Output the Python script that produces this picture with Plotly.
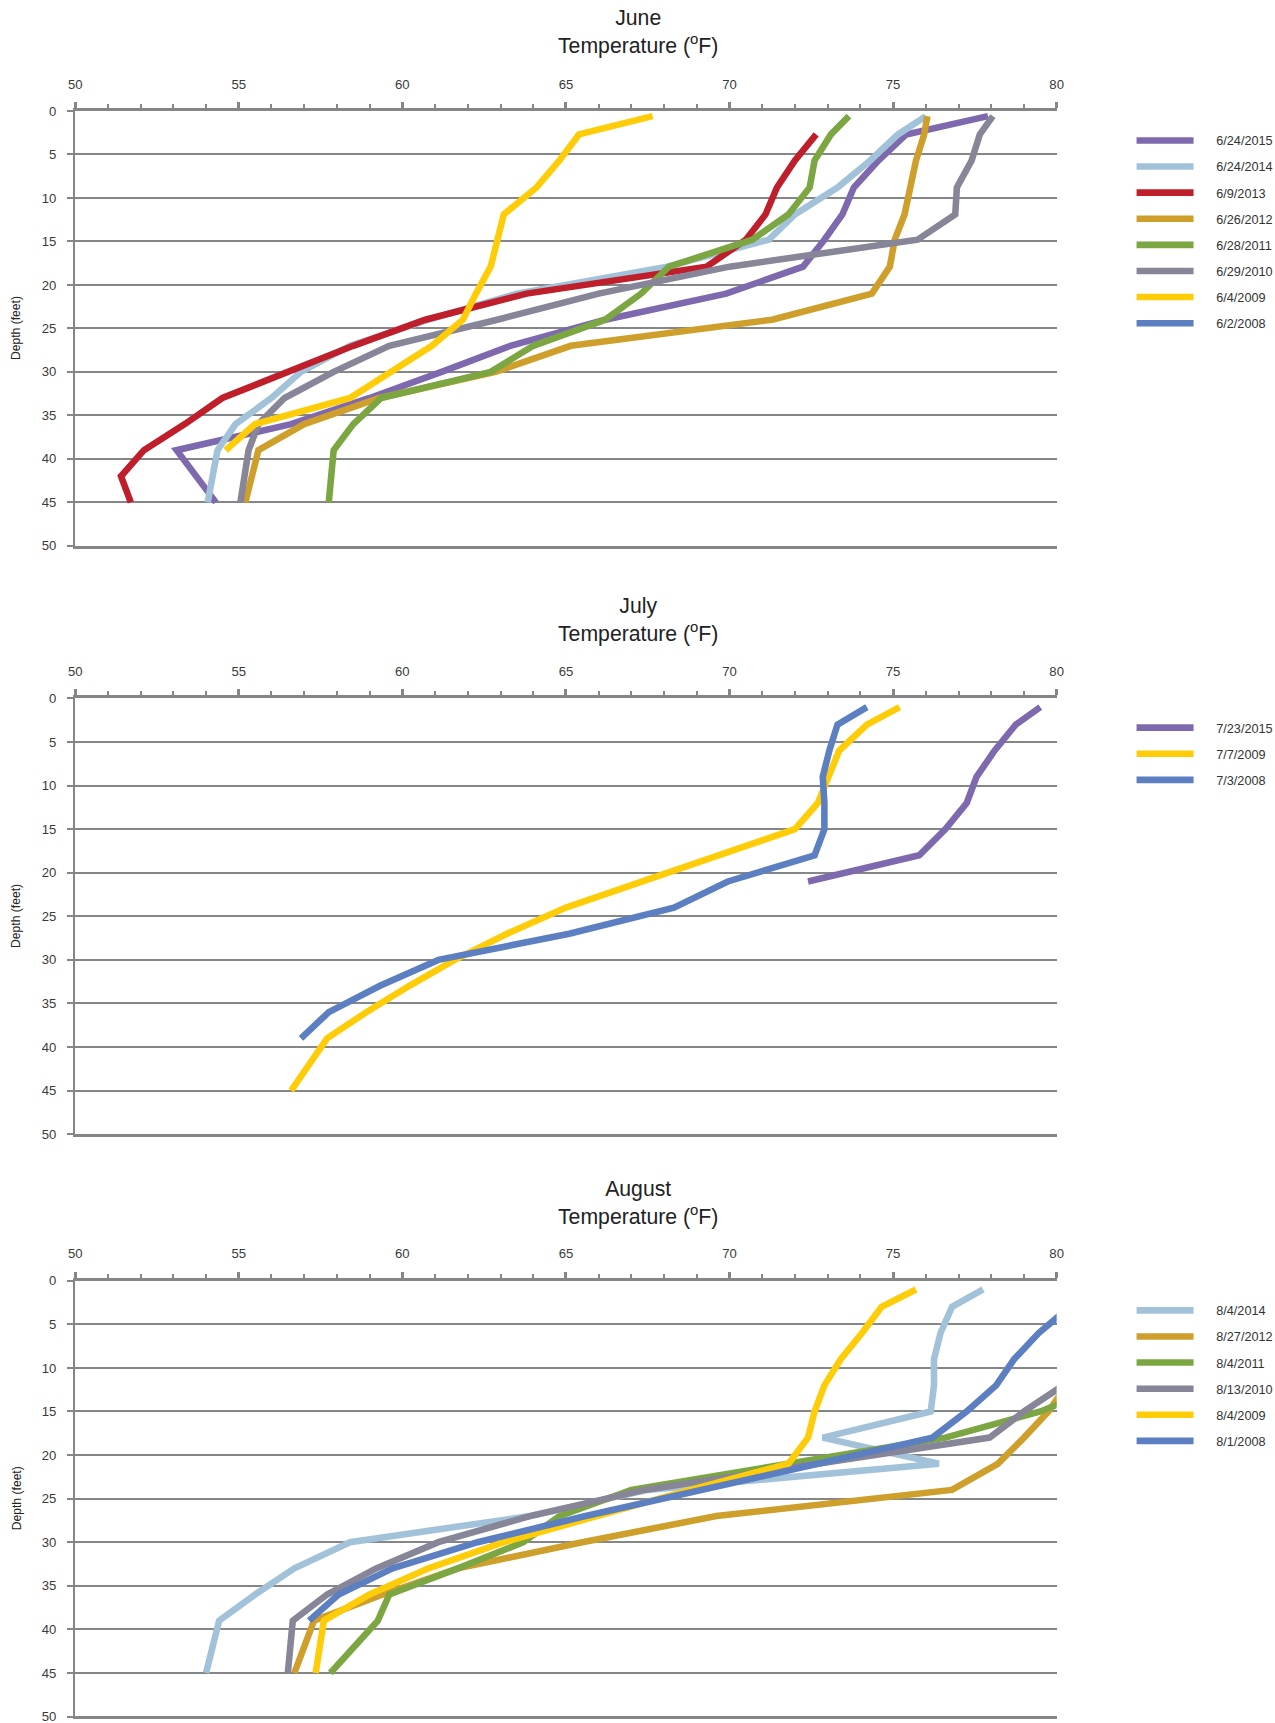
import plotly.graph_objects as go

# The page is laid out in a 1291x1739 window with the default 8px body margin
# and shown at 1275x1723; positions below are given in shown-page pixels and
# converted to figure pixels.
PAGE_W, PAGE_H = 1275, 1723
WIN_W, WIN_H = 1291, 1739
BODY_MARGIN = 8
FIG_W, FIG_H = WIN_W - BODY_MARGIN, WIN_H - BODY_MARGIN
SX, SY = WIN_W / PAGE_W, WIN_H / PAGE_H
K = (SX + SY) / 2  # size factor for fonts and strokes

# ---- depths (feet) of the readings ----
JUNE_DEPTH = [0.6, 2.7, 5.7, 8.8, 11.9, 14.8, 17.9, 21, 24, 27, 30, 33, 36, 39, 42, 45]
DEPTH = [1, 3, 6, 9, 12, 15, 18, 21, 24, 27, 30, 33, 36, 39, 42, 45]

# ---- June profiles (deg F) ----
jun_2015 = [77.9, 75.4, 74.55, 73.8, 73.45, 72.9, 72.25, 69.9, 66.2, 63.3, 61.2, 59.0, 56.6, 53.1, None, 54.3]
jun_2014 = [76.0, 75.15, 74.3, 73.3, 72.0, 71.2, 68.1, 63.5, 60.8, 58.4, 56.9, 56.0, 54.9, 54.35, None, 54.05]
jun_2013 = [None, 72.65, 72.0, 71.45, 71.1, 70.5, 69.3, 63.8, 60.7, 58.5, 56.5, 54.5, 53.35, 52.1, 51.4, 51.7]
jun_2012 = [76.05, 75.95, 75.7, 75.5, 75.35, 75.05, 74.9, 74.35, 71.3, 65.15, 62.85, 59.3, 57.0, 55.6, None, 55.2]
jun_2011 = [73.65, 73.1, 72.6, 72.45, 71.8, 70.7, 68.15, 67.3, 66.2, 64.0, 62.7, 59.35, 58.5, 57.9, None, 57.75]
jun_2010 = [78.05, 77.65, 77.4, 76.95, 76.9, 75.75, 70.0, 66.0, 62.9, 59.6, 57.9, 56.4, 55.6, 55.3, None, 55.05]
jun_2009 = [67.65, 65.4, 64.8, 64.1, 63.1, 62.9, 62.7, 62.25, 61.85, 60.9, 59.65, 58.4, 55.5, 54.6, None, None]
jun_2008 = [None] * 16

# ---- July profiles (deg F) ----
jul_2015 = [79.5, 78.75, 78.1, 77.55, 77.25, 76.6, 75.8, 72.4, None, None, None, None, None, None, None, None]
jul_2009 = [75.2, 74.2, 73.35, 73.0, 72.7, 72.0, 69.65, 67.35, 65.0, 63.2, 61.6, 60.2, 58.9, 57.7, None, 56.6]
jul_2008 = [74.2, 73.3, 73.05, 72.85, 72.9, 72.9, 72.6, 69.95, 68.3, 65.1, 61.1, 59.3, 57.75, 56.9, None, None]

# ---- August profiles (deg F) ----
aug_2014 = [77.75, 76.8, 76.45, 76.25, 76.25, 76.15, 72.85, 76.4, 67.5, 63.9, 58.4, 56.7, 55.5, 54.4, None, 54.0]
aug_2012 = [None, None, None, None, 80.3, 79.75, 79.0, 78.2, 76.8, 69.6, 65.5, 61.7, 59.4, 57.3, None, 56.7]
aug_2011 = [None, None, None, None, 81.5, 79.5, 76.6, 71.7, 67.0, 64.8, 63.7, 61.7, 59.6, 59.25, None, 57.8]
aug_2010 = [None, None, None, None, 80.2, 79.0, 77.95, 72.7, 67.4, 63.9, 61.1, 59.2, 57.7, 56.65, None, 56.5]
aug_2009 = [75.7, 74.65, 74.05, 73.4, 72.9, 72.6, 72.4, 71.8, 68.8, 66.0, 63.1, 60.8, 59.0, 57.6, None, 57.35]
aug_2008 = [None, 80.4, 79.45, 78.7, 78.15, 77.25, 76.2, 72.7, 69.1, 65.6, 62.3, 59.7, 58.05, 57.15, None, None]

# ---- colours ----
PURPLE = "#7E69AF"
LIGHT_BLUE = "#A2C2DA"
RED = "#BE1F2B"
GOLD = "#CF9F2C"
GREEN = "#7BA641"
GRAY = "#878598"
YELLOW = "#FFCC08"
BLUE = "#5B7FC1"

GRID = "#858688"
TEXT = "#333333"
FONT = "Liberation Sans, Arial, sans-serif"
PAD = "\u00a0" * 5  # space between legend swatch and label

panels = [
    dict(title="June", depth=JUNE_DEPTH, legend="legend",
         series=[("6/24/2015", jun_2015, PURPLE), ("6/24/2014", jun_2014, LIGHT_BLUE),
                 ("6/9/2013", jun_2013, RED), ("6/26/2012", jun_2012, GOLD),
                 ("6/28/2011", jun_2011, GREEN), ("6/29/2010", jun_2010, GRAY),
                 ("6/4/2009", jun_2009, YELLOW), ("6/2/2008", jun_2008, BLUE)]),
    dict(title="July", depth=DEPTH, legend="legend2",
         series=[("7/23/2015", jul_2015, PURPLE), ("7/7/2009", jul_2009, YELLOW),
                 ("7/3/2008", jul_2008, BLUE)]),
    dict(title="August", depth=DEPTH, legend="legend3",
         series=[("8/4/2014", aug_2014, LIGHT_BLUE), ("8/27/2012", aug_2012, GOLD),
                 ("8/4/2011", aug_2011, GREEN), ("8/13/2010", aug_2010, GRAY),
                 ("8/4/2009", aug_2009, YELLOW), ("8/1/2008", aug_2008, BLUE)]),
]

# page-pixel layout: plot edges, depth 0 / depth 50 rows, titles, legends
plot_left, plot_right = 76, 1056
panel_px = [(111.8, 546.5), (699, 1134.5), (1281, 1716.5)]
title_center_px = [33, 621, 1203.5]
legend_first_item_px = [140.7, 727.6, 1310]
legend_line_start_px = 1137
depth_label_x_px = 17.5


def fx(v):
    """page x (px) -> figure x (px)"""
    return v * SX - BODY_MARGIN


def fy(v):
    """page y (px) -> figure y (px)"""
    return v * SY - BODY_MARGIN


def paper_x(v):
    return fx(v) / FIG_W


def paper_y(v):
    return 1 - fy(v) / FIG_H


fig = go.Figure()
layout = dict(
    width=FIG_W, height=FIG_H,
    margin=dict(l=0, r=0, t=0, b=0),
    paper_bgcolor="white", plot_bgcolor="white",
    font=dict(family=FONT, size=13 * K, color=TEXT),
    showlegend=True,
    annotations=[],
)

xdom = [paper_x(plot_left), paper_x(plot_right)]
tick_font = dict(size=13 * K, color="#3a3a3a")

for i, (panel, (top, bot)) in enumerate(zip(panels, panel_px)):
    n = i + 1
    xname = "x" if n == 1 else f"x{n}"
    yname = "y" if n == 1 else f"y{n}"
    xkey = "xaxis" if n == 1 else f"xaxis{n}"
    ykey = "yaxis" if n == 1 else f"yaxis{n}"
    overlay_key = f"xaxis{n + 3}"

    for j, (name, temps, color) in enumerate(panel["series"]):
        fig.add_trace(go.Scatter(
            x=temps, y=panel["depth"], name=PAD + name, mode="lines",
            line=dict(color=color, width=6.5 * K), connectgaps=True,
            xaxis=xname, yaxis=yname, legend=panel["legend"],
            legendgroup=f"{panel['title']}{j}", hoverinfo="x+y+name",
        ))

    # labelled top axis with outward ticks
    layout[xkey] = dict(
        domain=xdom, anchor=yname, side="top", range=[50, 80],
        tick0=50, dtick=5, ticks="outside", ticklen=6 * K, tickwidth=2.5, tickcolor=GRID,
        minor=dict(dtick=1, ticks="outside", ticklen=4 * K, tickwidth=1.6, tickcolor=GRID),
        showline=True, linecolor=GRID, linewidth=3, mirror=True,
        showgrid=False, zeroline=False, ticklabelstandoff=8,
        tickfont=tick_font,
    )
    # companion axis giving the inward half of the crossing ticks
    layout[overlay_key] = dict(
        overlaying=xname, anchor=yname, side="top", range=[50, 80],
        tick0=50, dtick=5, ticks="inside", ticklen=6 * K, tickwidth=2.5, tickcolor=GRID,
        minor=dict(dtick=1, ticks="inside", ticklen=4 * K, tickwidth=1.6, tickcolor=GRID),
        showticklabels=False, showgrid=False, zeroline=False, showline=False,
    )
    layout[ykey] = dict(
        domain=[paper_y(bot), paper_y(top)], anchor=xname, range=[50, 0],
        tick0=0, dtick=5, ticks="outside", ticklen=6 * K, tickwidth=2.2, tickcolor=GRID,
        showgrid=True, gridcolor=GRID, gridwidth=2.4,
        showline=True, linecolor=GRID, linewidth=2.2,
        zeroline=False, ticklabelstandoff=8,
        tickfont=tick_font,
    )
    layout[panel["legend"]] = dict(
        x=(fx(legend_line_start_px) - 6.3) / FIG_W,
        y=1 - (fy(legend_first_item_px[i]) - 14.3) / FIG_H,
        xanchor="left", yanchor="top",
        font=dict(size=12.7, color=TEXT), bgcolor="rgba(0,0,0,0)",
        tracegroupgap=6.6, itemwidth=57, traceorder="grouped",
    )
    layout["annotations"].append(dict(
        text=f"{panel['title']}<br>Temperature (<sup>o</sup>F)",
        xref="paper", yref="paper", x=paper_x(PAGE_W / 2), y=paper_y(title_center_px[i]),
        xanchor="center", yanchor="middle",
        showarrow=False, font=dict(size=21 * K, color="#222222", family=FONT),
    ))
    layout["annotations"].append(dict(
        text="Depth (feet)", textangle=-90,
        xref="paper", yref="paper", x=paper_x(depth_label_x_px), y=paper_y((top + bot) / 2),
        xanchor="center", yanchor="middle", showarrow=False,
        font=dict(size=12 * K, color="#222222", family=FONT),
    ))

fig.update_layout(**layout)
fig.write_html("out.html")
